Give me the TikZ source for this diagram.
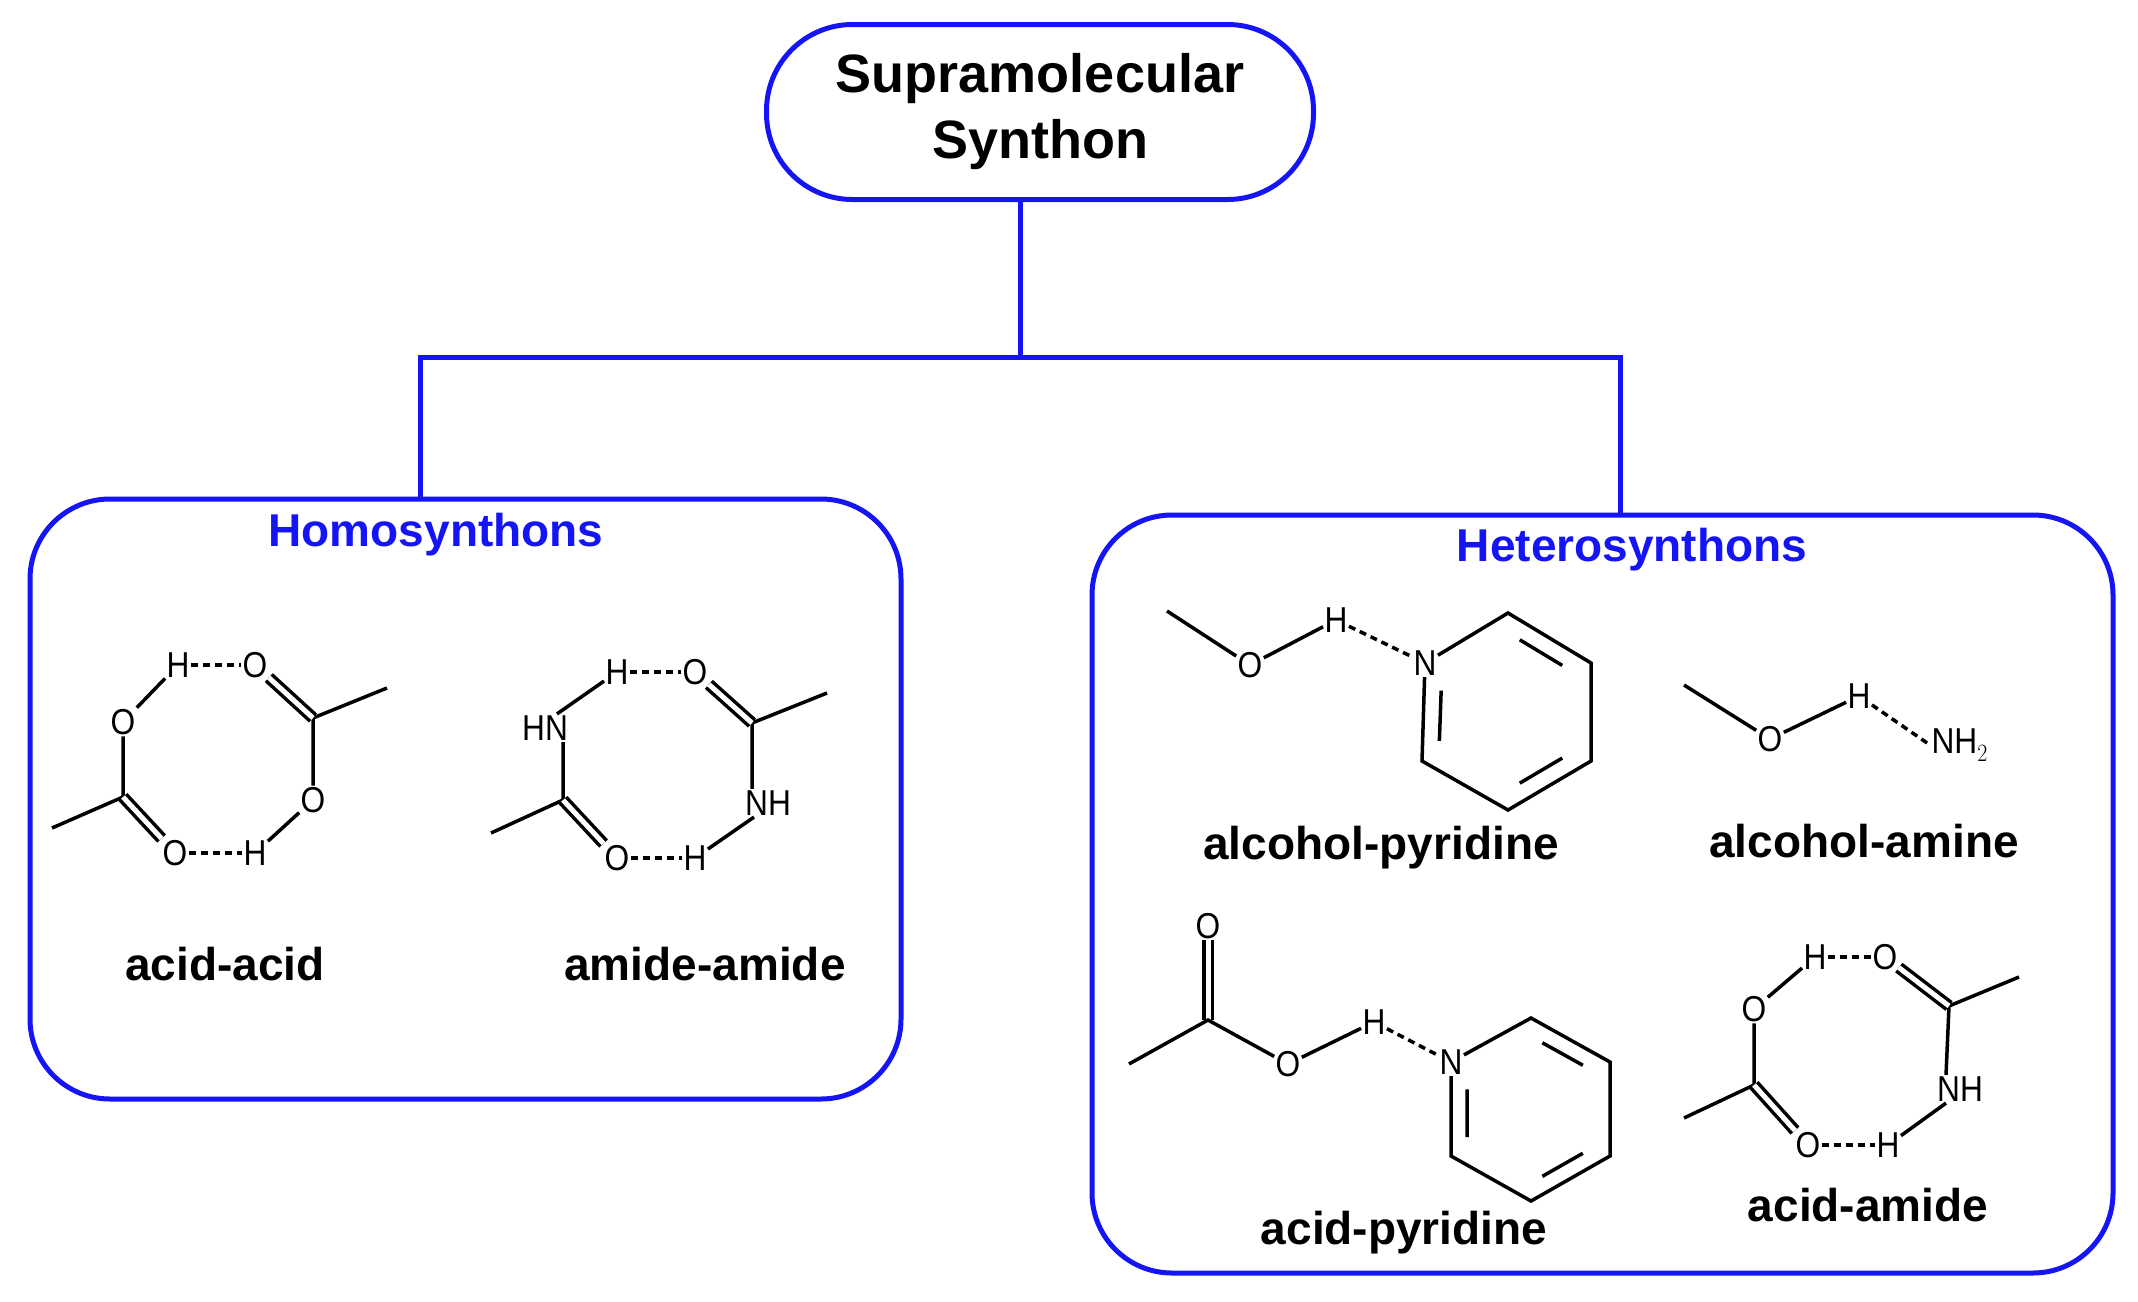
\documentclass[tikz,border=0pt]{standalone}
\usepackage{fontspec}
\setmainfont{Liberation Sans}
\usetikzlibrary{calc}
\definecolor{bb}{RGB}{20,20,245}
\begin{document}
\begin{tikzpicture}[x=1pt,y=-1pt,
  box/.style={draw=bb,line width=5pt},
  conn/.style={draw=bb,line width=5pt},
  atm/.style={inner sep=1.5pt,font=\fontsize{36}{38}\selectfont,xscale=0.88},
  lab/.style={font=\bfseries\fontsize{46}{48}\selectfont},
  ttl/.style={font=\bfseries\fontsize{46}{48}\selectfont,text=bb},
  bd/.style={line width=3.5pt},
  hb/.style={line width=3.5pt,dash pattern=on 7pt off 5pt},
  dbl/.style={line width=3.5pt,double,double distance=5pt}]
\useasboundingbox (0,0) rectangle (2138,1301);
% boxes
\node[box,rounded corners=86pt,minimum width=547pt,minimum height=175pt,align=center,
  font=\bfseries\fontsize{54}{66}\selectfont] (top) at (1040,112) {Supramolecular\\Synthon};
\draw[box,rounded corners=80pt] (30,499) rectangle (901,1099);
\draw[box,rounded corners=80pt] (1092,515) rectangle (2113,1273);
\coordinate (lb) at (420,499); \coordinate (rb) at (1620,515);
\coordinate (j) at (1020,357);
\draw[conn] (top.south -| j) -- (j);
\draw[conn] (lb) |- (j) -| (rb);
\node[ttl] (homo) at (436,535) {Homosynthons};
\node[ttl] (hetero) at (1632,550) {Heterosynthons};
% labels
\node[lab] (l1) at (225,964) {acid-acid};
\node[lab] (l2) at (705,964) {amide-amide};
\node[lab] (l3) at (1381,848) {alcohol-pyridine};
\node[lab] (l4) at (1864,841) {alcohol-amine};
\node[lab] (l5) at (1404,1233) {acid-pyridine};
\node[lab] (l6) at (1868,1205) {acid-amide};
% acid-acid
\node[atm] (aH1) at (178,665) {H}; \node[atm] (aO1) at (255,665) {O};
\node[atm] (aO2) at (123,722) {O}; \coordinate (aC1) at (123,797); \coordinate (aM1) at (52,828);
\node[atm] (aO3) at (175,853) {O}; \node[atm] (aH2) at (255,853) {H};
\node[atm] (aO4) at (313,800) {O}; \coordinate (aC2) at (313,718); \coordinate (aM2) at (387,688);
\draw[bd] (aO2)--(aH1) (aO2)--(aC1)--(aM1) (aO4)--(aH2) (aO4)--(aC2)--(aM2);
\draw[dbl] (aC1)--(aO3); \draw[dbl] (aC2)--(aO1);
\draw[hb] (aH1)--(aO1); \draw[hb] (aO3)--(aH2);
% amide-amide
\node[atm] (mH1) at (617,672) {H}; \node[atm] (mO1) at (695,672) {O};
\node[atm] (mN1) at (545,728) {HN}; \coordinate (mC1) at (563,800); \coordinate (mM1) at (491,833);
\node[atm] (mO2) at (617,858) {O}; \node[atm] (mH2) at (695,858) {H};
\node[atm] (mN2) at (768,803) {NH}; \coordinate (mC2) at (752,723); \coordinate (mM2) at (827,693);
\draw[bd] ($(mN1.north)+(12,0)$)--(mH1) ($(mN1.south)+(18,0)$)--(mC1)--(mM1)
  ($(mN2.south)+(-14,0)$)--(mH2) ($(mN2.north)+(-16,0)$)--(mC2)--(mM2);
\draw[dbl] (mC1)--(mO2); \draw[dbl] (mC2)--(mO1);
\draw[hb] (mH1)--(mO1); \draw[hb] (mO2)--(mH2);
% alcohol-pyridine
\coordinate (pM) at (1167,611); \node[atm] (pO) at (1250,665) {O}; \node[atm] (pH) at (1336,620) {H};
\node[atm] (pN) at (1425,663) {N};
\coordinate (p1) at (1508,613); \coordinate (p2) at (1591,663); \coordinate (p3) at (1591,761);
\coordinate (p4) at (1508,810); \coordinate (p5) at (1422,761); \coordinate (pc) at (1507,711);
\draw[bd] (pM)--(pO)--(pH) (pN)--(p1)--(p2)--(p3)--(p4)--(p5)--(pN);
\draw[hb] (pH)--(pN);
\draw[bd] ($($(p1)!0.18!(p2)$)!0.2!(pc)$)--($($(p1)!0.82!(p2)$)!0.2!(pc)$)
  ($($(p3)!0.18!(p4)$)!0.2!(pc)$)--($($(p3)!0.82!(p4)$)!0.2!(pc)$)
  ($($(pN.south)!0.1!(p5)$)!0.2!(pc)$)--($($(pN.south)!0.85!(p5)$)!0.2!(pc)$);
% alcohol-amine
\coordinate (eM) at (1684,685); \node[atm] (eO) at (1770,739) {O}; \node[atm] (eH) at (1859,696) {H};
\node[atm,anchor=west] (eN) at (1930,745) {NH$_2$};
\draw[bd] (eM)--(eO)--(eH); \draw[hb] (eH)--(eN.west);
% acid-pyridine
\node[atm] (qO1) at (1208,926) {O}; \coordinate (qC) at (1208,1020); \coordinate (qM) at (1129,1064);
\node[atm] (qO2) at (1288,1064) {O}; \node[atm] (qH) at (1374,1022) {H}; \node[atm] (qN) at (1451,1062) {N};
\coordinate (q1) at (1531,1018); \coordinate (q2) at (1610,1062); \coordinate (q3) at (1610,1156);
\coordinate (q4) at (1531,1201); \coordinate (q5) at (1451,1156); \coordinate (qc) at (1531,1110);
\draw[dbl] (qC)--(qO1);
\draw[bd] (qM)--(qC)--(qO2)--(qH) (qN)--(q1)--(q2)--(q3)--(q4)--(q5)--(qN);
\draw[hb] (qH)--(qN);
\draw[bd] ($($(q1)!0.18!(q2)$)!0.2!(qc)$)--($($(q1)!0.82!(q2)$)!0.2!(qc)$)
  ($($(q3)!0.18!(q4)$)!0.2!(qc)$)--($($(q3)!0.82!(q4)$)!0.2!(qc)$)
  ($($(qN.south)!0.1!(q5)$)!0.2!(qc)$)--($($(qN.south)!0.85!(q5)$)!0.2!(qc)$);
% acid-amide
\node[atm] (rH1) at (1815,957) {H}; \node[atm] (rO1) at (1885,957) {O};
\node[atm] (rO2) at (1754,1009) {O}; \coordinate (rC1) at (1754,1085); \coordinate (rM1) at (1684,1118);
\node[atm] (rO3) at (1808,1145) {O}; \node[atm] (rH2) at (1888,1145) {H};
\node[atm] (rN) at (1960,1089) {NH}; \coordinate (rC2) at (1949,1006); \coordinate (rM2) at (2019,977);
\draw[bd] (rO2)--(rH1) (rO2)--(rC1)--(rM1) ($(rN.south)+(-14,0)$)--(rH2)
  ($(rN.north)+(-14,0)$)--(rC2)--(rM2);
\draw[dbl] (rC1)--(rO3); \draw[dbl] (rC2)--(rO1);
\draw[hb] (rH1)--(rO1); \draw[hb] (rO3)--(rH2);
\end{tikzpicture}
\end{document}
